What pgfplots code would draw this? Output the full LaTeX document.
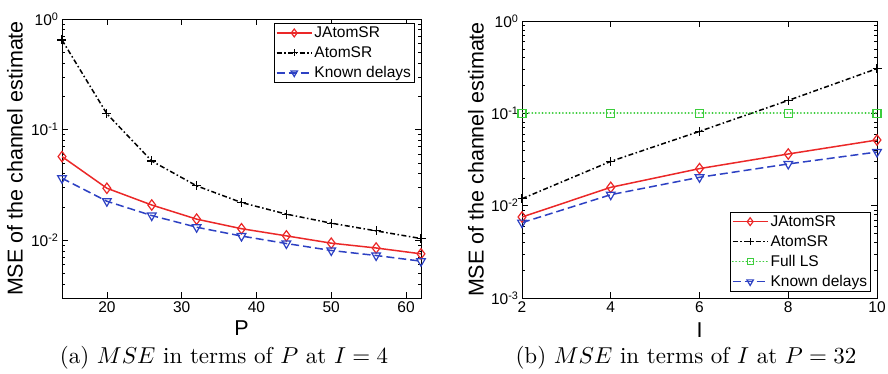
\documentclass[border=0pt]{standalone}
\usepackage{fontspec}
\usepackage{pgfplots}
\pgfplotsset{compat=1.18}
\newfontfamily\arial{Liberation Sans}
\definecolor{mred}{RGB}{235,40,40}
\definecolor{mblue}{RGB}{45,65,195}
\definecolor{mgreen}{RGB}{60,205,60}
\tikzset{
  l1/.style={mred, line width=1.5pt, mark=diamond, mark size=5.2pt, mark options={solid, line width=1.2pt, fill=none}},
  l2/.style={black, line width=1.5pt, dash pattern=on 5pt off 2.5pt on 1.5pt off 2.5pt, mark=+, mark size=4.5pt, mark options={solid, line width=1.2pt}},
  l3/.style={mgreen, line width=1.8pt, line cap=round, dash pattern=on 0.2pt off 3.2pt, mark=square, mark size=4pt, mark options={solid, line cap=butt, line width=1.3pt, fill=none}},
  l4/.style={mblue, line width=1.5pt, dash pattern=on 8pt off 4pt, mark=triangle, mark size=5pt, mark options={solid, rotate=180, line width=1.2pt, fill=none}},
}
\pgfplotsset{
  every axis/.append style={
    scale only axis,
    tick align=inside, xtick pos=both, ytick pos=both,
    major tick length=6pt, minor tick length=3pt,
    every tick/.style={black, line width=0.6pt},
    axis line style={line width=0.8pt},
    /pgf/number format/assume math mode=true,
    tick label style={font=\fontsize{15.5}{18}\selectfont\arial},
  },
  every axis legend/.append style={font=\fontsize{15.5}{18}\selectfont\arial, draw=black, line width=0.8pt,
      cells={anchor=west}, inner sep=1.5pt, row sep=3.5pt},
  legend image code/.code={\draw[mark repeat=2,mark phase=2, every mark/.append style={scale=0.75}] plot coordinates {(0pt,0pt) (17.5pt,0pt) (35pt,0pt)};},
}
\begin{document}
\begin{tikzpicture}[x=1pt,y=1pt]
\path[use as bounding box] (0pt,0pt) rectangle (888pt,373pt);
\begin{axis}[at={(62pt,75pt)}, anchor=south west, width=359pt, height=279pt,
  ymode=log, log basis y=10,
  yticklabel={10\textsuperscript{\pgfmathparse{int(round(\tick))}\pgfmathresult}},
  xmin=14, xmax=62, ymin=0.003, ymax=1, xtick={20,30,40,50,60},
  xlabel={P}, ylabel={MSE of the channel estimate},
  every axis x label/.style={at={(axis description cs:0.5,-0.1075)}, anchor=center, font=\fontsize{21.5}{24}\selectfont\arial},
  every axis y label/.style={at={(axis description cs:-0.131,0.5)}, rotate=90, anchor=center, font=\fontsize{21.5}{24}\selectfont\arial},
  legend style={at={(axis description cs:0.983,0.986)}, anchor=north east}]
\addplot[l1] coordinates {(14,0.057) (20,0.0295) (26,0.0208) (32,0.0155) (38,0.0127) (44,0.01094) (50,0.0094) (56,0.0085) (62,0.00753)};
\addlegendentry{JAtomSR}
\addplot[l2] coordinates {(14,0.646) (20,0.139) (26,0.052) (32,0.031) (38,0.0219) (44,0.0172) (50,0.01425) (56,0.01214) (62,0.01035)};
\addlegendentry{AtomSR}
\addplot[l4] coordinates {(14,0.0363) (20,0.0225) (26,0.0167) (32,0.0131) (38,0.0109) (44,0.00933) (50,0.00807) (56,0.00727) (62,0.00646)};
\addlegendentry{Known delays}
\end{axis}
\begin{axis}[at={(522pt,75pt)}, anchor=south west, width=355pt, height=277pt,
  ymode=log, log basis y=10,
  yticklabel={10\textsuperscript{\pgfmathparse{int(round(\tick))}\pgfmathresult}},
  xmin=2, xmax=10, ymin=0.001, ymax=1, xtick={2,4,6,8,10},
  xlabel={I}, ylabel={MSE of the channel estimate},
  every axis x label/.style={at={(axis description cs:0.5,-0.1155)}, anchor=center, font=\fontsize{21.5}{24}\selectfont\arial},
  every axis y label/.style={at={(axis description cs:-0.1296,0.5)}, rotate=90, anchor=center, font=\fontsize{21.5}{24}\selectfont\arial},
  legend style={at={(axis description cs:0.983,0.0217)}, anchor=south east}]
\addplot[l1] coordinates {(2,0.00754) (4,0.0158) (6,0.0252) (8,0.0363) (10,0.0514)};
\addlegendentry{JAtomSR}
\addplot[l2] coordinates {(2,0.0119) (4,0.0302) (6,0.0638) (8,0.138) (10,0.305)};
\addlegendentry{AtomSR}
\addplot[l3] coordinates {(2,0.1) (4,0.1) (6,0.1) (8,0.1) (10,0.1)};
\addlegendentry{Full LS}
\addplot[l4] coordinates {(2,0.00655) (4,0.01315) (6,0.0203) (8,0.0283) (10,0.0381)};
\addlegendentry{Known delays}
\end{axis}
\node[anchor=base, scale=2.3] at (224pt,10pt) {(a) $MSE$ in terms of $P$ at $I = 4$};
\node[anchor=base, scale=2.3] at (686pt,10pt) {(b) $MSE$ in terms of $I$ at $P = 32$};
\end{tikzpicture}
\end{document}
